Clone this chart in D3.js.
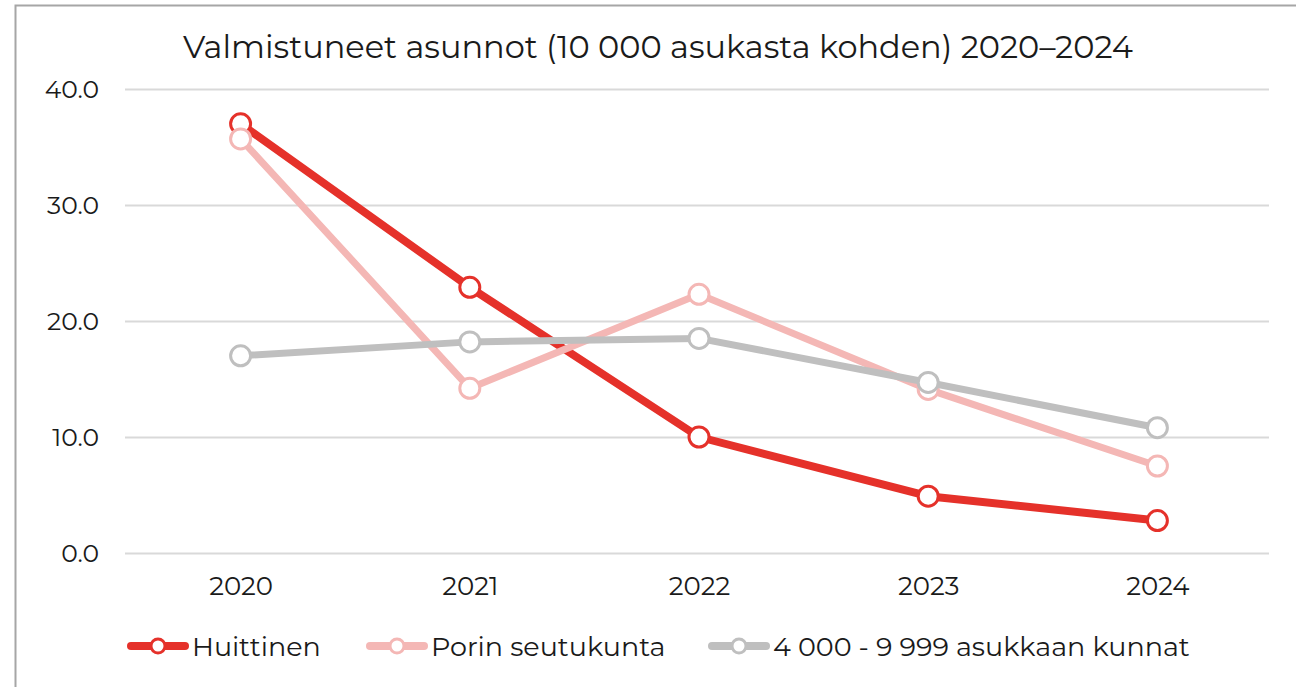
<!DOCTYPE html>
<html>
<head>
<meta charset="utf-8">
<script src="https://cdn.jsdelivr.net/npm/d3@7"></script>
<style>
  body { margin: 0; background: #fff; }
  svg text { font-family: "Montserrat", "Open Sans", "Noto Sans", sans-serif; fill: #1a1a1a; }
</style>
</head>
<body>
<script>
/* Data */
const years = ["2020", "2021", "2022", "2023", "2024"];
const huittinen = [37.0, 22.9, 10.0, 4.9, 2.8];
const porinSeutukunta = [35.7, 14.2, 22.3, 14.1, 7.5];
const kunnat4000 = [17.0, 18.2, 18.5, 14.7, 10.8];
const yTicks = [0, 10, 20, 30, 40];

const seriesList = [
  { name: "Huittinen", values: huittinen, color: "#E5312A", width: 8 },
  { name: "Porin seutukunta", values: porinSeutukunta, color: "#F4B7B5", width: 7 },
  { name: "4 000 - 9 999 asukkaan kunnat", values: kunnat4000, color: "#BFBFBF", width: 7 }
];

/* Constants */
const W = 1296, H = 687;
const PLOT = { left: 125, right: 1269, top: 89, bottom: 553 };

const svg = d3.select("body").append("svg")
  .attr("width", W)
  .attr("height", H);

/* Frame */
svg.append("rect")
  .attr("x", 15.5).attr("y", 5.5)
  .attr("width", 1300).attr("height", 700)
  .attr("fill", "none")
  .attr("stroke", "#A6A6A6")
  .attr("stroke-width", 2);

/* Scales */
const xScale = d3.scalePoint()
  .domain(years)
  .range([126, 1272])
  .padding(0.5);

const yScale = d3.scaleLinear()
  .domain([0, 40])
  .range([PLOT.bottom, PLOT.top]);

/* Grid + y axis */
const yAxis = d3.axisLeft(yScale)
  .tickValues(yTicks)
  .tickFormat(d3.format(".1f"))
  .tickSize(-(PLOT.right - PLOT.left))
  .tickPadding(26);

const gy = svg.append("g")
  .attr("transform", "translate(" + PLOT.left + ",0)")
  .call(yAxis);
gy.select(".domain").remove();
gy.selectAll(".tick line").attr("stroke", "#D9D9D9").attr("stroke-width", 2);
gy.selectAll(".tick text").style("font-size", "25px").attr("fill", "#1a1a1a");

/* x axis */
const xAxis = d3.axisBottom(xScale).tickSize(0).tickPadding(24);
const gx = svg.append("g")
  .attr("transform", "translate(0," + PLOT.bottom + ")")
  .call(xAxis);
gx.select(".domain").remove();
gx.selectAll(".tick text").style("font-size", "26px").attr("fill", "#1a1a1a");

/* Title */
svg.append("text")
  .attr("x", 658)
  .attr("y", 58)
  .attr("text-anchor", "middle")
  .style("font-size", "32px")
  .text("Valmistuneet asunnot (10 000 asukasta kohden) 2020–2024");

/* Lines */
const line = d3.line()
  .x((d, i) => xScale(years[i]))
  .y(d => yScale(d));

seriesList.forEach(s => {
  const g = svg.append("g");
  g.append("path")
    .datum(s.values)
    .attr("d", line)
    .attr("fill", "none")
    .attr("stroke", s.color)
    .attr("stroke-width", s.width)
    .attr("stroke-linejoin", "round")
    .attr("stroke-linecap", "round");
  g.selectAll("circle")
    .data(s.values)
    .enter()
    .append("circle")
    .attr("cx", (d, i) => xScale(years[i]))
    .attr("cy", d => yScale(d))
    .attr("r", 10)
    .attr("fill", "#fff")
    .attr("stroke", s.color)
    .attr("stroke-width", 3);
});

/* Legend */
const legendX = [131, 370, 712];
seriesList.forEach((s, i) => {
  const g = svg.append("g").attr("transform", "translate(" + legendX[i] + ",646)");
  g.append("line")
    .attr("x1", 0).attr("x2", 54)
    .attr("stroke", s.color)
    .attr("stroke-width", 8)
    .attr("stroke-linecap", "round");
  g.append("circle")
    .attr("cx", 27).attr("r", 7)
    .attr("fill", "#fff")
    .attr("stroke", s.color)
    .attr("stroke-width", 3);
  g.append("text")
    .attr("x", 61)
    .attr("y", 10)
    .style("font-size", "27px")
    .text(s.name);
});
</script>
</body>
</html>
